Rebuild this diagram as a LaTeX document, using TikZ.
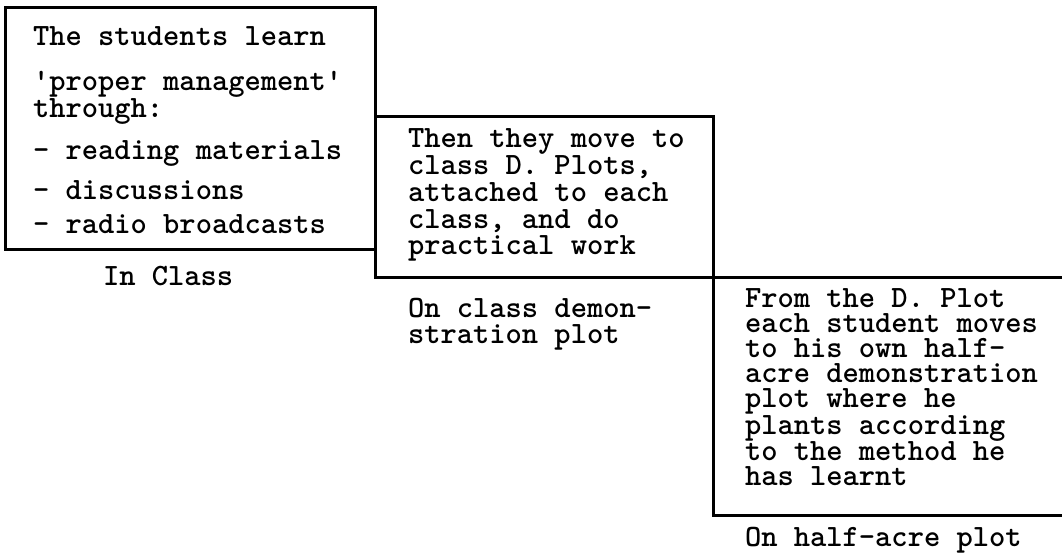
\documentclass[tikz,border=0pt]{standalone}
\usepackage{fontspec}
\begin{document}
\begin{tikzpicture}[x=1pt,y=-1pt,
  boxline/.style={draw=black,line width=3pt,rectangle,inner sep=0pt,outer sep=0pt},
  txt/.style={anchor=north west,align=left,inner sep=0pt,outer sep=0pt,
    font=\ttfamily\bfseries\fontsize{31}{25.1}\selectfont,text=black},
  txtb/.style={txt,font=\ttfamily\bfseries\fontsize{31}{26.7}\selectfont},
  txta/.style={txt,font=\ttfamily\bfseries\fontsize{31}{23}\selectfont}]
\useasboundingbox[fill=white] (0,0) rectangle (1062,553);
% boxes
\node[boxline,minimum width=370pt,minimum height=242pt] (b1) at (190,129) {};
\node[boxline,minimum width=338pt,minimum height=160pt] (b2) at (544,197) {};
\node[inner sep=0pt,outer sep=0pt,minimum width=349pt,minimum height=238pt] (b3) at (887.5,396) {};
\draw[line width=3pt] (b3.north east) -- (b3.north west) -- (b3.south west) -- (b3.south east);
% box texts
\node[txta] (t1) at (33,24) {\rule{0pt}{22pt}The students learn\\[22pt]
\textquotesingle proper management\textquotesingle\\
through:\\[15pt]
- reading materials\\[13pt]
- discussions\\[11pt]
- radio broadcasts};
\node[txtb] (t2) at (408,126) {\rule{0pt}{22pt}Then they move to\\
class D. Plots,\\
attached to each\\
class, and do\\
practical work};
\node[txt] (t3) at (745,285) {\rule{0pt}{22pt}From the D. Plot\\
each student moves\\
to his own half-\\
acre demonstration\\
plot where he\\
plants according\\
to the method he\\
has learnt};
% labels
\node[txt] (l1) at (103,263) {\rule{0pt}{22pt}In Class};
\node[txtb] (l2) at (408,295) {\rule{0pt}{22pt}On class demon-\\
stration plot};
\node[txt] (l3) at (745,524) {\rule{0pt}{22pt}On half-acre plot};
\end{tikzpicture}
\end{document}
